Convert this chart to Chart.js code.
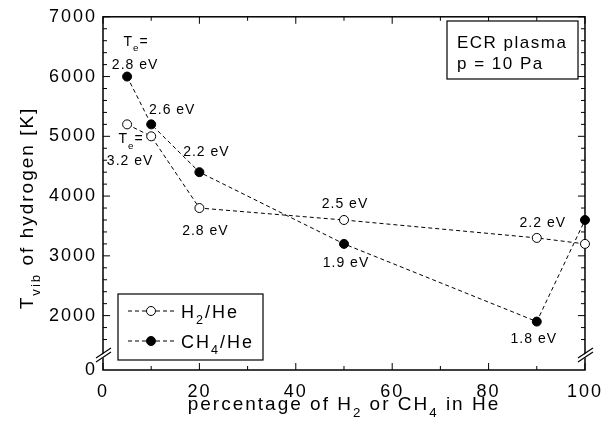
<!DOCTYPE html>
<html>
<head>
<meta charset="utf-8">
<script src="https://cdn.jsdelivr.net/npm/chart.js@4.4.0/dist/chart.umd.min.js"></script>
<style>
  body { margin: 0; background: #fff; }
</style>
</head>
<body>
<canvas id="tvib-chart" width="611" height="421"></canvas>
<script>
// data
const percent  = [5, 10, 20, 50, 90, 100];
const tvibH2   = [5200, 5000, 3800, 3600, 3300, 3200];
const tvibCH4  = [6000, 5200, 4400, 3200, 1900, 3600];
const teH2     = ["3.2 eV", null, "2.8 eV", "2.5 eV", "2.2 eV", null];
const teCH4    = ["2.8 eV", "2.6 eV", "2.2 eV", "1.9 eV", "1.8 eV", null];
const xTicks   = [0, 20, 40, 60, 80, 100];
const yTicks   = [2000, 3000, 4000, 5000, 6000, 7000];
const Y_BOTTOM = 1090;   // bottom of the broken axis, labelled "0"

const FONT = "'Liberation Sans', Arial, sans-serif";

// where the T_e labels sit relative to their point (px)
const offH2  = [[3, 36], null, [6, 22], [1, -17], [6, -16], null];
const offCH4 = [[8, -13], [21, -15], [7, -21], [2, 18], [-3, 16], null];

// text with subscripts: parts = [[text, isSub], ...]
function rich(ctx, parts, x, y, size, align) {
    const sub = size * 0.7;
    let w = 0;
    const ws = parts.map(([t, s]) => {
        ctx.font = (s ? sub : size) + "px " + FONT;
        const m = ctx.measureText(t).width;
        w += m;
        return m;
    });
    let cx = align === "center" ? x - w / 2 : align === "right" ? x - w : x;
    ctx.textAlign = "left";
    ctx.textBaseline = "alphabetic";
    parts.forEach(([t, s], i) => {
        ctx.font = (s ? sub : size) + "px " + FONT;
        ctx.fillText(t, cx, s ? y + size * 0.38 : y);
        cx += ws[i];
    });
}

function line(ctx, x0, y0, x1, y1) {
    ctx.beginPath();
    ctx.moveTo(x0, y0);
    ctx.lineTo(x1, y1);
    ctx.stroke();
}

const decor = {
    id: "decor",
    beforeDraw(chart) {
        chart.ctx.letterSpacing = "2px";
    },
    beforeDatasetsDraw(chart) {
        const { ctx, chartArea: a, scales: { x, y } } = chart;
        ctx.save();
        ctx.strokeStyle = "#000";
        ctx.lineWidth = 1.5;
        ctx.strokeRect(a.left, a.top, a.right - a.left, a.bottom - a.top);

        // inward ticks on all four sides
        ctx.lineWidth = 1;
        for (let v = 0; v <= 100; v += 10) {
            const px = x.getPixelForValue(v);
            const L = v % 20 ? 4 : 7;
            line(ctx, px, a.bottom, px, a.bottom - L);
            line(ctx, px, a.top, px, a.top + L);
        }
        for (let v = 1600; v <= 7000; v += 200) {
            const py = y.getPixelForValue(v);
            const L = v % 1000 ? 4 : 7;
            line(ctx, a.left, py, a.left + L, py);
            line(ctx, a.right, py, a.right - L, py);
        }

        // axis break marks
        const by = y.getPixelForValue(1340);
        for (const ax of [a.left, a.right]) {
            ctx.fillStyle = "#fff";
            ctx.beginPath();
            ctx.moveTo(ax - 3, by + 5);
            ctx.lineTo(ax + 3, by + 1);
            ctx.lineTo(ax + 3, by - 3);
            ctx.lineTo(ax - 3, by + 1);
            ctx.closePath();
            ctx.fill();
            ctx.lineWidth = 1.2;
            line(ctx, ax - 7, by + 7, ax + 8, by - 3);
            line(ctx, ax - 7, by + 3, ax + 8, by - 7);
        }
        ctx.restore();
    },
    afterDatasetsDraw(chart) {
        const { ctx, chartArea: a, scales: { x, y } } = chart;
        ctx.save();
        ctx.fillStyle = "#000";
        ctx.strokeStyle = "#000";

        // T_e labels
        ctx.letterSpacing = "1px";
        const te = (labels, vals, offs) => labels.forEach((t, i) => {
            if (!t) return;
            const px = x.getPixelForValue(percent[i]) + offs[i][0];
            const py = y.getPixelForValue(vals[i]) + offs[i][1];
            rich(ctx, [[t, 0]], px, py + 5, 14, "center");
        });
        te(teH2, tvibH2, offH2);
        te(teCH4, tvibCH4, offCH4);
        const te0 = [["T", 0], ["e", 1], ["=", 0]];
        rich(ctx, te0, x.getPixelForValue(percent[0]) + 9, y.getPixelForValue(tvibCH4[0]) - 31, 14, "center");
        rich(ctx, te0, x.getPixelForValue(percent[0]) + 4, y.getPixelForValue(tvibH2[0]) + 19, 14, "center");

        // ECR box
        ctx.lineWidth = 1.2;
        ctx.fillStyle = "#fff";
        ctx.fillRect(447, 21, 131, 58);
        ctx.strokeRect(447, 21, 131, 58);
        ctx.fillStyle = "#000";
        ctx.letterSpacing = "1.5px";
        rich(ctx, [["ECR plasma", 0]], 457, 48, 17, "left");
        rich(ctx, [["p = 10 Pa", 0]], 457, 69, 17, "left");

        // legend
        ctx.fillStyle = "#fff";
        ctx.fillRect(118, 294, 145, 66);
        ctx.strokeRect(118, 294, 145, 66);
        const entries = [
            { y: 311, fill: "#fff", parts: [["H", 0], ["2", 1], ["/He", 0]] },
            { y: 341, fill: "#000", parts: [["CH", 0], ["4", 1], ["/He", 0]] }
        ];
        entries.forEach(e => {
            ctx.lineWidth = 1;
            ctx.setLineDash([4, 3]);
            line(ctx, 128, e.y, 177, e.y);
            ctx.setLineDash([]);
            ctx.beginPath();
            ctx.arc(151, e.y, 4.5, 0, Math.PI * 2);
            ctx.fillStyle = e.fill;
            ctx.fill();
            ctx.stroke();
            ctx.fillStyle = "#000";
            ctx.letterSpacing = "2px";
            rich(ctx, e.parts, 181, e.y + 6.5, 18, "left");
        });

        // axis titles
        ctx.letterSpacing = "2px";
        rich(ctx, [["percentage of H", 0], ["2", 1], [" or CH", 0], ["4", 1], [" in He", 0]],
             (a.left + a.right) / 2, 410, 19, "center");
        ctx.translate(33, 208);
        ctx.rotate(-Math.PI / 2);
        rich(ctx, [["T", 0], ["vib", 1], [" of hydrogen [K]", 0]], 0, 0, 19, "center");
        ctx.restore();
    }
};

const series = (vals, fill) => ({
    data: percent.map((p, i) => ({ x: p, y: vals[i] })),
    borderColor: "#000",
    borderWidth: 1,
    borderDash: [4, 3],
    pointRadius: 4.5,
    pointBackgroundColor: fill,
    pointBorderColor: "#000",
    pointBorderWidth: 1,
    tension: 0,
    clip: false
});

new Chart(document.getElementById("tvib-chart"), {
    type: "line",
    data: {
        datasets: [
            { label: "H2/He", ...series(tvibH2, "#fff") },
            { label: "CH4/He", ...series(tvibCH4, "#000") }
        ]
    },
    options: {
        responsive: false,
        animation: false,
        devicePixelRatio: 1,
        layout: { padding: { top: 13, right: 24, left: 0, bottom: 0 } },
        plugins: { legend: { display: false }, tooltip: { enabled: false } },
        scales: {
            x: {
                type: "linear", min: 0, max: 100,
                afterBuildTicks: s => { s.ticks = xTicks.map(v => ({ value: v })); },
                afterFit: s => { s.height = 51; },
                grid: { display: false, drawTicks: false },
                border: { display: false },
                ticks: { color: "#000", padding: 11, maxRotation: 0,
                         font: { family: FONT, size: 18 } }
            },
            y: {
                type: "linear", min: Y_BOTTOM, max: 7000,
                afterBuildTicks: s => { s.ticks = [Y_BOTTOM, ...yTicks].map(v => ({ value: v })); },
                afterFit: s => { s.width = 103; },
                grid: { display: false, drawTicks: false },
                border: { display: false },
                ticks: { color: "#000", padding: 6,
                         font: { family: FONT, size: 18 },
                         callback: v => v < 2000 ? "0" : String(v) }
            }
        }
    },
    plugins: [decor]
});
</script>
</body>
</html>
